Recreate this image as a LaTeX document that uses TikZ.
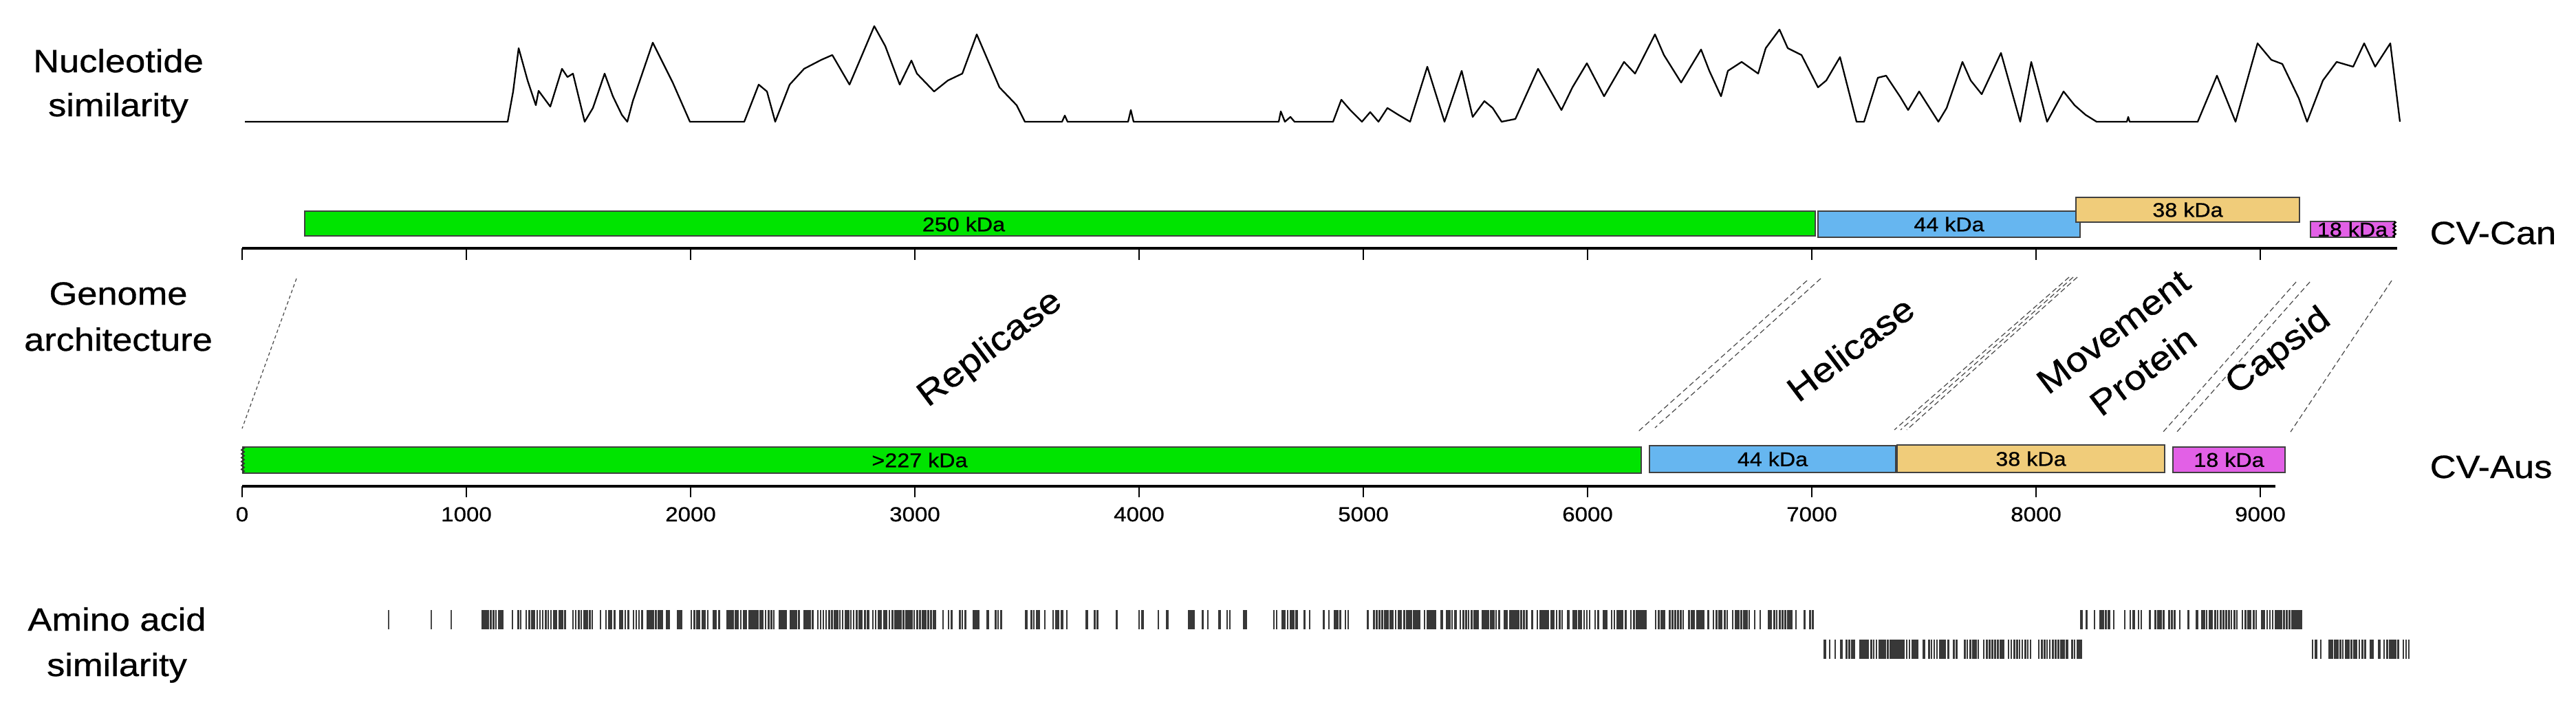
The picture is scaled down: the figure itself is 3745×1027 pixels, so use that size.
\documentclass[tikz,border=0pt]{standalone}
\usepackage{fontspec}
\setmainfont{Liberation Sans}[FakeStretch=1.12, FakeBold=0.7]
\usetikzlibrary{decorations.pathmorphing}
\definecolor{gG}{RGB}{0,228,0}
\definecolor{gB}{RGB}{102,182,240}
\definecolor{gT}{RGB}{240,204,122}
\definecolor{gM}{RGB}{226,96,230}
\newcommand\genebox[7]{%
  \node[gene, fill=#6, minimum width={(#4-#2)*0.01cm}, minimum height={(#5-#3)*0.01cm}] (#1) at ({(#2+#4)/2},{(#3+#5)/2}) {#7};}
\newcommand\barseg[5]{%
  \pgfmathtruncatemacro\xbnext{#1+4}%
  \foreach \xx in {#1,\xbnext,...,#2}{%
    \pgfmathsetmacro\rr{rnd}%
    \ifdim\rr pt<#5pt
      \pgfmathsetmacro\ww{1.5+3*rnd}%
      \fill[black!78] (\xx,#3) rectangle ++(\ww,#4-#3);
    \fi}}
\begin{document}
\begin{tikzpicture}[x=0.01cm,y=-0.01cm,
  gene/.style={draw=black!75, line width=0.7pt, inner sep=0pt, font=\fontsize{8.2}{9}\selectfont},
  side/.style={font=\fontsize{13.3}{16}\selectfont, anchor=base, inner sep=0pt},
  rot/.style={font=\fontsize{14.3}{20.5}\selectfont, rotate=37, inner sep=0pt, align=center},
  ticklbl/.style={font=\fontsize{8.4}{10}\selectfont, anchor=base, inner sep=0pt},
  axis/.style={line width=1.2pt, black},
  tickmark/.style={line width=0.6pt, black},
  link/.style={dashed, dash pattern=on 2.2pt off 1.3pt, line width=0.35pt, black!70},
  trunc/.style={line width=0.6pt, decorate, decoration={zigzag, amplitude=0.5pt, segment length=1.6pt}}]
\useasboundingbox (0,0) rectangle (3745,1027);

% ---------- left labels ----------
\node[side] (nuc1) at (172,105) {Nucleotide};
\node[side] (nuc2) at (172,169) {similarity};
\node[side] (gen1) at (172,443) {Genome};
\node[side] (gen2) at (172,510) {architecture};
\node[side] (aa1) at (170,917) {Amino acid};
\node[side] (aa2) at (170,983) {similarity};

% ---------- nucleotide similarity plot ----------
\draw[line width=0.65pt, line join=round] (356,177) -- (738,177) -- (746,133) -- (754,70) -- (767,117) -- (779,153) -- (783,132) -- (800,155) -- (817,100) -- (825,112) -- (833,107) -- (850,177) -- (862,157) -- (879,107) -- (891,140) -- (904,167) -- (912,177) -- (920,147) -- (949,62) -- (978,120) -- (1003,177) -- (1082,177) -- (1103,123) -- (1115,133) -- (1127,177) -- (1148,123) -- (1169,100) -- (1194,87) -- (1210,80) -- (1235,123) -- (1252,83) -- (1271,38) -- (1287,67) -- (1308,123) -- (1325,88) -- (1333,107) -- (1358,133) -- (1378,117) -- (1399,107) -- (1420,50) -- (1453,127) -- (1478,153) -- (1490,177) -- (1544,177) -- (1548,168) -- (1552,177) -- (1640,177) -- (1644,160) -- (1648,177) -- (1859,177) -- (1862,162) -- (1868,177) -- (1876,170) -- (1882,177) -- (1938,177) -- (1950,145) -- (1963,160) -- (1980,177) -- (1992,163) -- (2004,177) -- (2017,157) -- (2033,167) -- (2050,177) -- (2075,97) -- (2100,177) -- (2125,103) -- (2141,170) -- (2158,147) -- (2170,157) -- (2183,177) -- (2203,173) -- (2236,100) -- (2270,160) -- (2286,127) -- (2307,92) -- (2332,140) -- (2361,90) -- (2377,107) -- (2406,50) -- (2419,80) -- (2444,120) -- (2473,72) -- (2485,103) -- (2502,140) -- (2512,103) -- (2532,90) -- (2556,107) -- (2567,70) -- (2587,43) -- (2599,70) -- (2619,80) -- (2643,127) -- (2655,117) -- (2675,83) -- (2699,177) -- (2710,177) -- (2730,113) -- (2742,110) -- (2762,140) -- (2774,160) -- (2790,133) -- (2818,177) -- (2830,157) -- (2853,90) -- (2865,117) -- (2881,137) -- (2909,77) -- (2937,177) -- (2953,90) -- (2976,177) -- (3000,133) -- (3016,153) -- (3032,167) -- (3048,177) -- (3092,177) -- (3094,170) -- (3096,177) -- (3195,177) -- (3223,110) -- (3250,177) -- (3282,63) -- (3302,87) -- (3318,93) -- (3342,143) -- (3354,177) -- (3377,117) -- (3397,90) -- (3421,97) -- (3437,63) -- (3453,97) -- (3475,63) -- (3489,177);

% ---------- CV-Can track ----------
\genebox{canRep}{443}{307}{2639}{343}{gG}{}
\node[gene, draw=none, fill=none] (canRepL) at (1401,326) {250 kDa};
\genebox{canHel}{2643}{307}{3024}{345}{gB}{44 kDa}
\genebox{canMP}{3018}{287}{3343}{323}{gT}{38 kDa}
\genebox{canCP}{3359}{322}{3481}{345}{gM}{18 kDa}
\draw[trunc] (3481,322) -- (3481,345);
\draw[axis] (352,361) -- (3485,361);
\foreach \k in {0,...,9} {\draw[tickmark] ({352+326*\k},361) -- ({352+326*\k},378);}
\node[side, anchor=base west] (can) at (3532,355) {CV-Can};

% ---------- CV-Aus track ----------
\genebox{ausRep}{353}{650}{2386}{688}{gG}{}
\node[gene, draw=none, fill=none] (ausRepL) at (1337,669) {>227 kDa};
\draw[trunc, draw=black!80] (353,650) -- (353,688);
\genebox{ausHel}{2398}{648}{2756}{687}{gB}{44 kDa}
\genebox{ausMP}{2758}{647}{3147}{687}{gT}{38 kDa}
\genebox{ausCP}{3159}{650}{3322}{687}{gM}{18 kDa}
\draw[axis] (352,707) -- (3308,707);
\foreach \k/\t in {0/0,1/1000,2/2000,3/3000,4/4000,5/5000,6/6000,7/7000,8/8000,9/9000} {
  \draw[tickmark] ({352+326*\k},707) -- ({352+326*\k},723);
  \node[ticklbl] (t\k) at ({352+326*\k},758) {\t};}
\node[side, anchor=base west] (aus) at (3532,695) {CV-Aus};

% ---------- homology links ----------
\coordinate (a1) at (431,405);  \coordinate (b1) at (352,623);
\coordinate (a2) at (2627,408); \coordinate (b2) at (2382,627);
\coordinate (a3) at (2647,405); \coordinate (b3) at (2406,622);
\coordinate (a4) at (3008,403); \coordinate (b4) at (2754,625);
\coordinate (a5) at (3014,403); \coordinate (b5) at (2763,625);
\coordinate (a6) at (3020,403); \coordinate (b6) at (2772,625);
\coordinate (a7) at (3338,410); \coordinate (b7) at (3143,630);
\coordinate (a8) at (3358,410); \coordinate (b8) at (3163,630);
\coordinate (a9) at (3477,408); \coordinate (b9) at (3330,628);
\draw[link, dash pattern=on 1.4pt off 1.1pt] (a1) -- (b1);
\foreach \i in {2,...,9} {\draw[link] (a\i) -- (b\i);}

% ---------- rotated gene names ----------
\node[rot] (rep) at (1440,508) {Replicase};
\node[rot] (hel) at (2690,507) {Helicase};
\node[rot] (mp) at (3094,511) {Movement\\Protein};
\node[rot] (cp) at (3313,512) {Capsid};

% ---------- amino acid similarity ----------
\pgfmathsetseed{11}
\fill[black!72] (564,887) rectangle ++(2,28);
\fill[black!72] (626,887) rectangle ++(2,28);
\fill[black!72] (655,887) rectangle ++(2,28);
\barseg{700}{1060}{887}{915}{0.68}
\barseg{1060}{1358}{887}{915}{0.9}
\barseg{1358}{1623}{887}{915}{0.36}
\barseg{1623}{1814}{887}{915}{0.3}
\barseg{1847}{1996}{887}{915}{0.42}
\barseg{1996}{2046}{887}{915}{0.9}
\barseg{2046}{2635}{887}{915}{0.82}
\barseg{3024}{3072}{887}{915}{0.45}
\barseg{3088}{3207}{887}{915}{0.55}
\barseg{3207}{3346}{887}{915}{0.9}
\barseg{2647}{2675}{930}{958}{0.45}
\barseg{2675}{3024}{930}{958}{0.85}
\barseg{3361}{3502}{930}{958}{0.9}
\end{tikzpicture}
\end{document}
